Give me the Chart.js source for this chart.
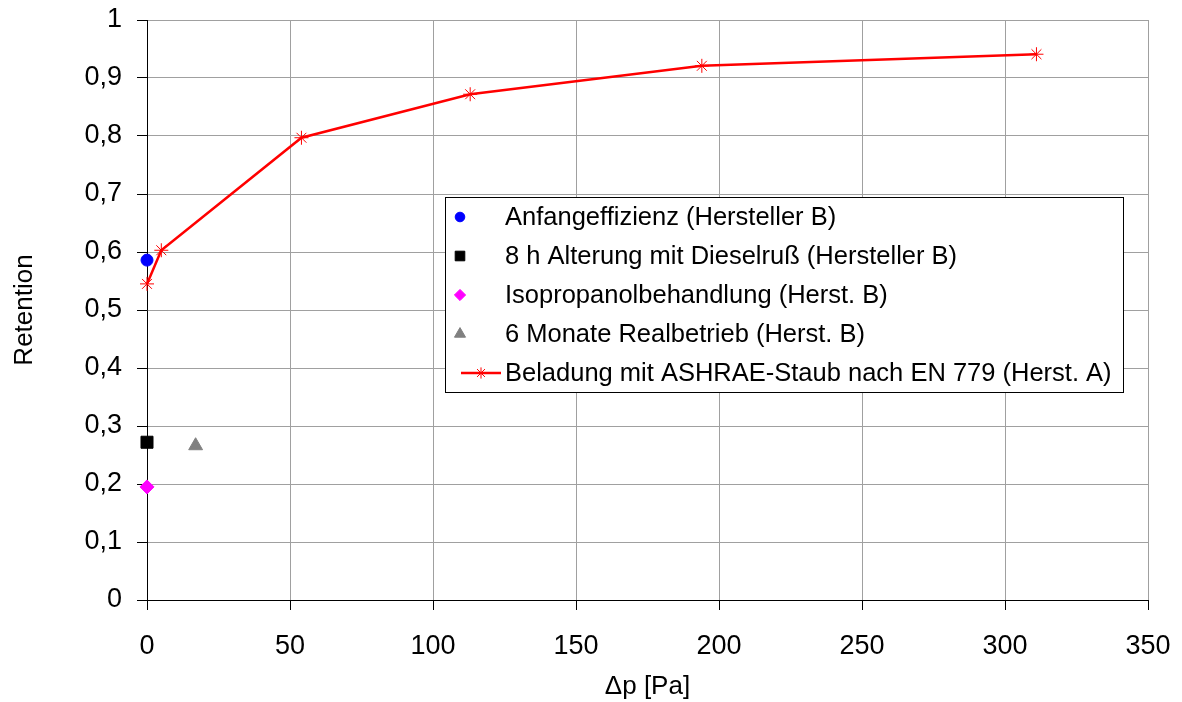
<!DOCTYPE html>
<html>
<head>
<meta charset="utf-8">
<script src="https://cdn.jsdelivr.net/npm/chart.js@4"></script>
<style>
  body { margin: 0; background: #fff; }
  canvas { display: block; }
</style>
</head>
<body>
<canvas id="retentionChart" width="1182" height="702"></canvas>
<script>
// series values
const anfangDp = [0];
const anfangRet = [0.586];
const dieselDp = [0];
const dieselRet = [0.272];
const isoDp = [0];
const isoRet = [0.195];
const realDp = [17];
const realRet = [0.266];
const ashraeDp = [0, 5, 54, 113, 194, 311];
const ashraeRet = [0.545, 0.603, 0.797, 0.872, 0.921, 0.941];

const seriesLabels = [
    'Anfangeffizienz (Hersteller B)',
    '8 h Alterung mit Dieselruß (Hersteller B)',
    'Isopropanolbehandlung (Herst. B)',
    '6 Monate Realbetrieb (Herst. B)',
    'Beladung mit ASHRAE-Staub nach EN 779 (Herst. A)'
];

const FONT = "'Liberation Sans', Arial, sans-serif";

function toPoints(xs, ys) {
    return xs.map((x, i) => ({ x: x, y: ys[i] }));
}

// legend drawn inside the plot area, like the original
const boxLegend = {
    id: 'boxLegend',
    afterDraw(chart) {
        const ctx = chart.ctx;
        const left = 445, top = 197, w = 678, h = 195;
        ctx.save();
        ctx.fillStyle = '#fff';
        ctx.fillRect(left, top, w, h);
        ctx.strokeStyle = '#000';
        ctx.lineWidth = 1;
        ctx.strokeRect(left + 0.5, top + 0.5, w, h);
        ctx.font = '25.5px ' + FONT;
        ctx.textBaseline = 'middle';
        chart.data.datasets.forEach((ds, i) => {
            const y = top + 20 + i * 39;
            if (ds.showLine) {
                ctx.strokeStyle = ds.borderColor;
                ctx.lineWidth = ds.borderWidth;
                ctx.beginPath();
                ctx.moveTo(left + 16, y);
                ctx.lineTo(left + 56, y);
                ctx.stroke();
            }
            ctx.strokeStyle = ds.pointBorderColor;
            ctx.fillStyle = ds.pointBackgroundColor;
            ctx.lineWidth = 1;
            const px = ds.showLine ? left + 36 : left + 15;
            Chart.helpers.drawPoint(ctx, {
                pointStyle: ds.pointStyle,
                radius: ds.pointRadius * 0.8,
                rotation: 0,
                borderWidth: 1
            }, px, y);
            ctx.fillStyle = '#000';
            ctx.fillText(seriesLabels[i], left + 60, y + 1);
        });
        ctx.restore();
    }
};

new Chart(document.getElementById('retentionChart').getContext('2d'), {
    type: 'scatter',
    data: {
        datasets: [{
            label: seriesLabels[0],
            data: toPoints(anfangDp, anfangRet),
            clip: false,
            pointStyle: 'circle',
            pointRadius: 6,
            pointBackgroundColor: '#0000ff',
            pointBorderColor: '#0000ff',
            borderColor: '#0000ff'
        }, {
            label: seriesLabels[1],
            data: toPoints(dieselDp, dieselRet),
            clip: false,
            pointStyle: 'rect',
            pointRadius: 8.5,
            pointBackgroundColor: '#000',
            pointBorderColor: '#000',
            borderColor: '#000'
        }, {
            label: seriesLabels[2],
            data: toPoints(isoDp, isoRet),
            clip: false,
            pointStyle: 'rectRot',
            pointRadius: 7,
            pointBackgroundColor: '#ff00ff',
            pointBorderColor: '#ff00ff',
            borderColor: '#ff00ff'
        }, {
            label: seriesLabels[3],
            data: toPoints(realDp, realRet),
            clip: false,
            pointStyle: 'triangle',
            pointRadius: 8,
            pointBackgroundColor: '#808080',
            pointBorderColor: '#808080',
            borderColor: '#808080'
        }, {
            label: seriesLabels[4],
            data: toPoints(ashraeDp, ashraeRet),
            clip: false,
            showLine: true,
            borderColor: '#ff0000',
            borderWidth: 2.5,
            pointStyle: 'star',
            pointRadius: 7,
            pointBorderWidth: 1,
            pointBackgroundColor: '#ff0000',
            pointBorderColor: '#ff0000'
        }]
    },
    options: {
        responsive: false,
        animation: false,
        layout: { padding: { top: 20, right: 34, left: 0, bottom: 0 } },
        plugins: {
            legend: { display: false },
            tooltip: { enabled: false }
        },
        scales: {
            x: {
                type: 'linear',
                min: 0,
                max: 350,
                ticks: {
                    stepSize: 50,
                    color: '#000',
                    padding: 20,
                    font: { family: FONT, size: 27 }
                },
                grid: { color: '#a0a0a0', tickColor: '#000', tickLength: 10 },
                border: { color: '#000', width: 1 },
                title: {
                    display: true,
                    text: '\u0394p [Pa]',
                    color: '#000',
                    padding: { top: 0, bottom: 0 },
                    font: { family: FONT, size: 26 }
                },
                afterFit(scale) {
                    scale.height = 102;
                    scale.paddingLeft = 0;
                    scale.paddingRight = 0;
                }
            },
            y: {
                min: 0,
                max: 1,
                ticks: {
                    stepSize: 0.1,
                    color: '#000',
                    padding: 15,
                    font: { family: FONT, size: 27 },
                    callback: v => String(Math.round(v * 10) / 10).replace('.', ',')
                },
                grid: { color: '#a0a0a0', tickColor: '#000', tickLength: 10 },
                border: { color: '#000', width: 1 },
                title: {
                    display: true,
                    text: 'Retention',
                    color: '#000',
                    padding: { top: 9, bottom: 0 },
                    font: { family: FONT, size: 26 }
                },
                afterFit(scale) {
                    scale.width = 147;
                    scale.paddingTop = 0;
                    scale.paddingBottom = 0;
                }
            }
        }
    },
    plugins: [boxLegend]
});
</script>
</body>
</html>
